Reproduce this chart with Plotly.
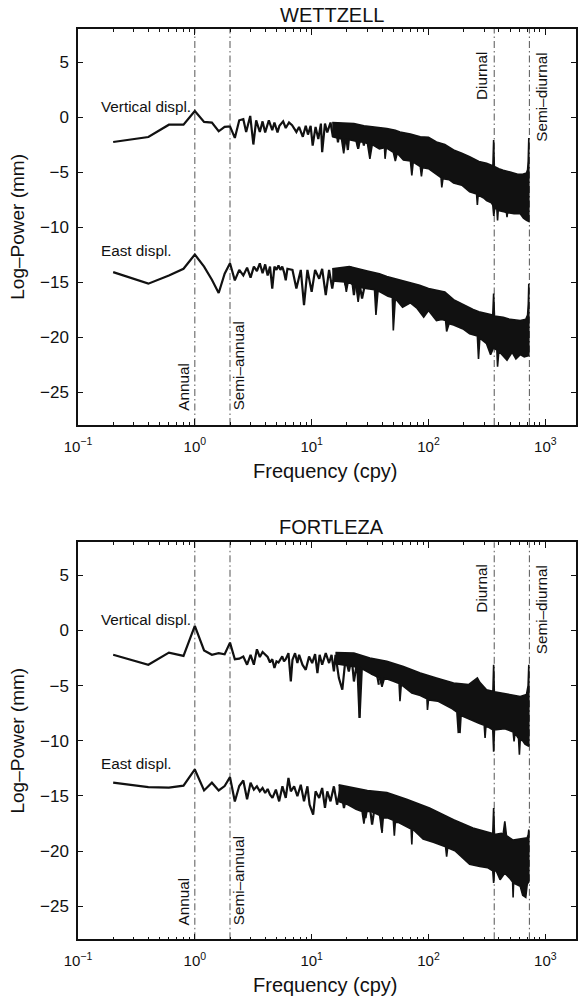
import math
import plotly.graph_objects as go

# ------------------------------------------------------------------ data
# WETTZELL - vertical displacement (low-frequency part, cpy / log-power)
wtz_v_freq = [0.2, 0.4, 0.6, 0.8, 1.0, 1.2, 1.4, 1.6, 1.8, 2.0, 2.2, 2.4, 2.6, 2.75, 2.98,
              3.17, 3.35, 3.6, 3.8, 4.0, 4.3, 4.6, 4.8, 5.1, 5.3, 5.7, 6.0, 6.4, 6.8, 7.4,
              7.8, 8.4, 8.9, 9.3, 9.8, 10.2, 10.8, 11.4, 12.0, 12.3, 13.0, 13.6, 14.5, 15.2,
              16.0, 16.8, 17.5, 18.4, 19.3, 20.4, 21.3, 22.7, 23.5, 25.0, 26.0, 28.0, 29.0]
wtz_v_pow = [-2.27, -1.82, -0.7, -0.7, 0.55, -0.45, -0.51, -1.3, -0.9, -0.85, -1.9, -0.3, -0.2,
             -1.36, 0.1, -2.5, -0.3, -1.36, -0.4, -1.4, -0.3, -1.2, -0.5, -1.4, -0.8, -0.4,
             -1.0, -0.5, -0.75, -1.36, -0.9, -1.8, -0.8, -1.6, -0.8, -2.6, -0.9, -2.0, -0.6,
             -3.2, -0.6, -1.4, -0.5, -1.8, -0.6, -2.3, -0.75, -2.0, -0.9, -3.0, -0.9, -2.0,
             -0.8, -2.9, -0.9, -2.6, -1.0]
# dense high-frequency band: upper / lower envelopes
wtz_v_up_freq = [15, 20, 23, 28, 34, 38, 44, 52, 57, 70, 85, 100, 117, 138, 164, 193, 225, 270,
                 314, 350, 356, 361, 366, 400, 436, 500, 580, 640, 690, 705, 714, 722]
wtz_v_up_pow = [-0.5, -0.55, -0.6, -0.8, -0.9, -1.0, -1.05, -1.2, -1.36, -1.55, -1.8, -1.85,
                -2.27, -2.5, -3.0, -3.3, -3.6, -4.05, -4.2, -4.4, -4.4, -2.1, -4.5, -4.7, -4.85,
                -5.0, -5.2, -5.2, -5.1, -4.8, -4.0, -1.9]
wtz_v_lo_freq = [15, 18, 18.8, 19.6, 24, 25, 26, 30, 31.5, 33, 38, 42, 42.5, 43.5, 50, 52, 54,
                 61, 70, 72, 74, 85, 87, 89, 100, 117, 128, 130, 133, 150, 164, 193, 225, 258,
                 262, 266, 300, 314, 345, 355, 362, 370, 385, 390, 395, 440, 465, 470, 475,
                 540, 610, 650, 690, 722]
wtz_v_lo_pow = [-1.8, -2.0, -3.3, -2.0, -2.2, -2.9, -2.2, -2.4, -3.8, -2.5, -2.9, -2.8, -3.8,
                -2.8, -3.2, -4.0, -3.3, -3.9, -4.0, -5.3, -4.1, -4.5, -5.4, -4.6, -4.7, -5.2,
                -5.5, -6.4, -5.6, -5.7, -6.0, -6.2, -6.8, -7.0, -8.0, -7.1, -7.4, -7.6, -7.8,
                -8.0, -9.0, -8.2, -8.4, -9.4, -8.5, -8.6, -8.7, -9.1, -8.7, -8.8, -8.8, -9.2,
                -9.4, -9.5]

# WETTZELL - east displacement
wtz_e_freq = [0.2, 0.4, 0.6, 0.8, 1.0, 1.2, 1.4, 1.6, 1.8, 2.0, 2.2, 2.4, 2.6, 2.8, 3.0, 3.2,
              3.4, 3.6, 3.8, 4.0, 4.2, 4.4, 4.6, 4.8, 5.0, 5.2, 5.4, 5.6, 5.8, 6.0, 6.2, 6.85,
              7.4, 8.07, 8.6, 9.2, 10.0, 10.7, 11.6, 12.3, 13.2, 14.1, 15.0, 16.0, 17.1, 18.3,
              19.5, 21.5, 23.0, 24.5, 27.0, 29.9]
wtz_e_pow = [-14.1, -15.15, -14.4, -13.8, -12.5, -13.6, -14.8, -16.0, -14.25, -13.3, -14.85,
             -13.9, -14.4, -13.7, -14.6, -13.6, -14.0, -13.3, -14.2, -13.4, -14.4, -13.6,
             -15.6, -13.6, -13.9, -13.5, -13.9, -13.6, -14.1, -14.85, -13.8, -13.9, -15.6,
             -13.9, -17.1, -13.9, -15.9, -13.9, -14.7, -13.8, -16.2, -13.9, -15.6, -13.8,
             -14.9, -13.9, -15.3, -13.6, -16.2, -13.9, -16.5, -14.2]
wtz_e_up_freq = [15, 21, 30, 38, 44, 60, 72, 84, 100, 138, 164, 200, 241, 270, 314, 355, 361,
                 367, 436, 500, 610, 680, 705, 715, 722]
wtz_e_up_pow = [-13.8, -13.6, -14.0, -14.25, -14.5, -14.9, -15.15, -15.3, -15.6, -15.9, -16.6,
                -17.1, -17.5, -17.7, -17.9, -18.0, -16.05, -18.1, -18.2, -18.4, -18.5, -18.4,
                -18.0, -17.0, -15.15]
wtz_e_lo_freq = [15, 19.2, 19.8, 20.5, 24, 25, 26, 30, 34.5, 35.5, 37, 45, 49, 50, 52, 60, 70,
                 80, 91, 100, 117, 130, 140, 143, 150, 164, 200, 225, 262, 268, 275, 314, 340,
                 360, 385, 390, 400, 470, 520, 560, 610, 660, 722]
wtz_e_lo_pow = [-14.9, -15.0, -15.9, -15.0, -15.4, -16.8, -15.5, -15.6, -15.7, -18.0, -15.8,
                -16.3, -16.4, -19.4, -16.5, -17.3, -16.9, -17.4, -18.2, -17.6, -18.5, -18.4,
                -18.5, -19.5, -18.8, -18.9, -19.3, -19.7, -19.9, -22.0, -20.1, -20.6, -21.6,
                -21.0, -21.2, -22.7, -21.3, -22.1, -21.4, -22.0, -21.6, -21.8, -21.7]

# FORTLEZA - vertical displacement
frt_v_freq = [0.2, 0.4, 0.6, 0.8, 1.0, 1.2, 1.4, 1.6, 1.8, 2.0, 2.2, 2.4, 2.6, 2.8, 3.0, 3.2,
              3.4, 3.6, 3.8, 4.0, 4.2, 4.4, 4.6, 4.8, 5.0, 5.2, 5.4, 5.6, 5.8, 6.0, 6.33, 6.63,
              6.85, 7.21, 7.55, 7.81, 8.34, 8.9, 9.5, 10.1, 10.7, 11.2, 11.7, 12.3, 13.2, 14.1,
              14.8, 15.5, 16.0, 17.1, 18.3, 19.5, 20.8, 22.0, 23.0, 24.5, 25.7, 27.0, 28.9,
              30.8, 32.9, 35.2, 37.6]
frt_v_pow = [-2.2, -3.1, -2.0, -2.3, 0.43, -1.8, -2.2, -2.05, -2.15, -1.1, -2.6, -2.55, -2.35,
             -3.1, -2.2, -3.1, -1.7, -2.4, -1.95, -2.2, -2.4, -2.9, -2.6, -3.4, -2.8, -2.9,
             -2.65, -2.35, -2.8, -2.6, -2.05, -4.62, -2.65, -2.05, -2.95, -2.2, -3.1, -3.56,
             -2.35, -2.95, -2.14, -3.86, -2.2, -3.1, -2.05, -2.95, -2.2, -3.71, -2.2, -4.31,
             -5.37, -2.5, -3.71, -2.5, -4.62, -2.8, -7.93, -2.95, -3.56, -2.8, -4.01, -3.26,
             -4.92]
frt_v_up_freq = [16, 23, 31.5, 44, 61, 85, 117, 164, 220, 250, 262, 275, 314, 356, 361, 366,
                 436, 520, 610, 690, 712, 722]
frt_v_up_pow = [-2.0, -2.05, -2.5, -2.8, -3.26, -3.86, -4.3, -4.77, -4.9, -4.5, -4.3, -4.7,
                -5.37, -5.5, -3.1, -5.55, -5.67, -5.85, -5.98, -5.8, -5.0, -3.1]
frt_v_lo_freq = [16, 24, 25.2, 25.7, 26.3, 32, 38, 40, 42, 50, 56, 57, 58.5, 72, 85, 97, 98,
                 100, 120, 138, 160, 175, 180, 183, 186, 190, 200, 270, 300, 305, 310, 330,
                 355, 361, 367, 380, 450, 530, 540, 550, 590, 600, 610, 640, 670, 722]
frt_v_lo_pow = [-3.0, -3.3, -3.4, -7.9, -3.4, -3.9, -4.3, -5.1, -4.3, -4.6, -4.8, -6.4, -4.9,
                -5.67, -5.9, -6.2, -7.2, -6.3, -6.4, -6.7, -7.1, -7.4, -9.3, -7.6, -9.3, -7.7,
                -7.8, -8.4, -8.6, -9.75, -8.7, -8.8, -9.0, -11.0, -9.0, -9.0, -8.9, -9.2,
                -10.05, -9.3, -9.8, -11.26, -9.9, -10.0, -10.3, -10.5]

# FORTLEZA - east displacement
frt_e_freq = [0.2, 0.4, 0.6, 0.8, 1.0, 1.2, 1.4, 1.6, 1.8, 2.0, 2.2, 2.4, 2.6, 2.8, 3.0, 3.2,
              3.4, 3.6, 3.8, 4.0, 4.2, 4.4, 4.62, 4.94, 5.27, 5.62, 6.0, 6.33, 6.63, 7.08,
              7.55, 8.07, 8.6, 9.2, 9.6, 10.3, 10.8, 11.6, 12.3, 13.0, 13.6, 14.5, 15.5, 16.5,
              17.7, 18.9, 20.2, 21.5, 23.0, 24.5, 26.2, 28.9, 30.8, 32.9, 35.2, 37.6, 40.1]
frt_e_pow = [-13.8, -14.2, -14.25, -14.07, -12.6, -14.5, -13.8, -14.5, -14.1, -13.3, -15.5,
             -14.1, -13.6, -15.3, -13.8, -14.43, -14.13, -14.58, -14.28, -14.73, -14.37,
             -14.88, -15.18, -14.43, -15.49, -14.13, -15.18, -13.37, -14.58, -14.13, -15.03,
             -13.98, -15.49, -14.13, -15.79, -16.7, -14.58, -15.18, -14.28, -16.09, -14.58,
             -15.49, -14.13, -15.79, -14.28, -16.09, -14.58, -15.49, -14.58, -15.79, -15.03,
             -17.0, -15.18, -17.6, -15.49, -16.09, -18.2]
frt_e_up_freq = [17, 25, 30, 44, 65, 102, 164, 240, 314, 355, 361, 367, 420, 435, 450, 465,
                 530, 650, 700, 715, 722]
frt_e_up_pow = [-14.0, -14.3, -14.5, -14.7, -15.3, -16.1, -17.15, -17.9, -18.2, -18.4, -16.1,
                -18.5, -18.4, -18.5, -17.3, -18.6, -19.0, -18.9, -18.8, -18.5, -18.05]
frt_e_lo_freq = [17, 20.5, 24, 27, 28, 29, 32, 39, 40, 41, 45, 50, 51, 52, 55, 65, 71, 72, 73,
                 90, 110, 140, 143, 146, 170, 225, 275, 320, 355, 361, 367, 380, 410, 450,
                 500, 525, 530, 535, 560, 610, 640, 680, 700, 722]
frt_e_lo_pow = [-15.5, -15.8, -16.2, -16.4, -17.5, -16.4, -16.4, -16.8, -18.35, -17.0, -17.0,
                -17.2, -18.6, -17.4, -17.4, -17.8, -18.0, -19.4, -18.0, -18.9, -19.2, -19.6,
                -20.5, -19.7, -20.0, -21.2, -21.4, -21.5, -21.8, -22.9, -21.8, -21.8, -22.6,
                -22.0, -22.5, -22.8, -24.2, -22.9, -23.0, -23.2, -24.0, -24.2, -23.0, -22.8]

# reference periods (cpy) and labels
ref_freq = [1.0, 2.0, 365.25, 730.5]
ref_label = ["Annual", "Semi–annual", "Diurnal", "Semi–diurnal"]

x_tick_vals = [0.1, 1, 10, 100, 1000]
x_tick_text = ["10<sup>−1</sup>", "10<sup>0</sup>", "10<sup>1</sup>", "10<sup>2</sup>",
               "10<sup>3</sup>"]
x_minor_vals = [0.2, 0.3, 0.4, 0.5, 0.6, 0.7, 0.8, 0.9, 2, 3, 4, 5, 6, 7, 8, 9,
                20, 30, 40, 50, 60, 70, 80, 90, 200, 300, 400, 500, 600, 700, 800, 900]
y_tick_vals = [-25, -20, -15, -10, -5, 0, 5]

panel_titles = ["WETTZELL", "FORTLEZA"]
series_labels = ["Vertical displ.", "East displ."]

# ------------------------------------------------------------------ figure
FONT = "Liberation Sans, Arial, Helvetica, sans-serif"
INK = "#111111"
W, H = 578, 1001
ML = 78

fig = go.Figure()

panels = [
    dict(xa="x", ya="y",
         lines=[(wtz_v_freq, wtz_v_pow), (wtz_e_freq, wtz_e_pow)],
         bands=[(wtz_v_up_freq, wtz_v_up_pow, wtz_v_lo_freq, wtz_v_lo_pow),
                (wtz_e_up_freq, wtz_e_up_pow, wtz_e_lo_freq, wtz_e_lo_pow)],
         top=29.0, bot=425.0, lab_y=[0.97, -12.12], ann_low=-26.85, ann_high=6.06,
         title_y=14.5, xlab_y=471.0),
    dict(xa="x2", ya="y2",
         lines=[(frt_v_freq, frt_v_pow), (frt_e_freq, frt_e_pow)],
         bands=[(frt_v_up_freq, frt_v_up_pow, frt_v_lo_freq, frt_v_lo_pow),
                (frt_e_up_freq, frt_e_up_pow, frt_e_lo_freq, frt_e_lo_pow)],
         top=542.3, bot=939.3, lab_y=[0.97, -12.07], ann_low=-26.9, ann_high=6.13,
         title_y=527.0, xlab_y=985.0),
]

annotations = []
shapes = []
for i, p in enumerate(panels):
    for (f, v) in p["lines"]:
        fig.add_trace(go.Scatter(x=f, y=v, mode="lines", xaxis=p["xa"], yaxis=p["ya"],
                                 line=dict(color=INK, width=2.2), hoverinfo="skip"))
    for (uf, uv, lf, lv) in p["bands"]:
        fig.add_trace(go.Scatter(x=list(uf) + list(lf)[::-1], y=list(uv) + list(lv)[::-1],
                                 mode="lines", fill="toself", fillcolor=INK,
                                 xaxis=p["xa"], yaxis=p["ya"],
                                 line=dict(color=INK, width=1.6), hoverinfo="skip"))
    # reference period lines (shape x given in data units on the log axis)
    for rf in ref_freq:
        shapes.append(dict(type="line", xref=p["xa"], yref=p["ya"] + " domain",
                           x0=rf, x1=rf, y0=0, y1=1, layer="below",
                           line=dict(color="#555555", width=1, dash="7px,3px,1.5px,3px")))
    # reference labels
    specs = [(0, "right", "bottom", p["ann_low"], -1),
             (1, "left", "bottom", p["ann_low"], -2),
             (2, "right", "top", p["ann_high"], -2),
             (3, "left", "top", p["ann_high"], 2)]
    for k, xa, ya, yv, xs in specs:
        annotations.append(dict(text=ref_label[k], xref=p["xa"], yref=p["ya"],
                                x=math.log10(ref_freq[k]), y=yv, textangle=-90,
                                xanchor=xa, yanchor=ya, xshift=xs, showarrow=False,
                                font=dict(size=15.3, color=INK)))
    # series labels
    for k in range(2):
        annotations.append(dict(text=series_labels[k], xref=p["xa"], yref=p["ya"],
                                x=math.log10(0.151), y=p["lab_y"][k], xanchor="left",
                                yanchor="middle", showarrow=False,
                                font=dict(size=15.3, color=INK)))
    # title
    annotations.append(dict(text=panel_titles[i], xref="paper", yref="paper",
                            x=(333 - ML) / (W - ML), y=1 - p["title_y"] / H,
                            xanchor="center", yanchor="middle", showarrow=False,
                            font=dict(size=20, color=INK)))
    # axis titles
    annotations.append(dict(text="Frequency (cpy)", xref="paper", yref="paper",
                            x=(326 - ML) / (W - ML), y=1 - p["xlab_y"] / H,
                            xanchor="center", yanchor="middle", showarrow=False,
                            font=dict(size=20, color=INK)))
    annotations.append(dict(text="Log–Power (mm)", xref="paper", yref="paper",
                            x=(17.5 - ML) / (W - ML), y=1 - (p["top"] + p["bot"]) / 2 / H,
                            xanchor="center", yanchor="middle", textangle=-90,
                            showarrow=False, font=dict(size=19, color=INK)))

xcommon = dict(type="log", range=[-1, math.log10(0.1) + (W - ML) / 117.3],
               tickmode="array", tickvals=x_tick_vals, ticktext=x_tick_text,
               ticks="inside", ticklen=6, tickwidth=1, tickcolor=INK,
               minor=dict(tickmode="array", tickvals=x_minor_vals, ticks="inside",
                          ticklen=3, tickwidth=1, tickcolor=INK),
               showline=True, linewidth=1.5, linecolor=INK, mirror="ticks",
               showgrid=False, zeroline=False, tickfont=dict(size=15, color=INK),
               ticklabelstandoff=7)
ycommon = dict(range=[-28, 8], tickmode="array", tickvals=y_tick_vals,
               ticks="inside", ticklen=5, tickwidth=1, tickcolor=INK,
               showline=True, linewidth=1.5, linecolor=INK, mirror="ticks",
               showgrid=False, zeroline=False, tickfont=dict(size=17, color=INK),
               ticklabelstandoff=4)

d_top = [1 - panels[0]["bot"] / H, 1 - panels[0]["top"] / H]
d_bot = [1 - panels[1]["bot"] / H, 1 - panels[1]["top"] / H]

fig.update_layout(
    width=W, height=H, margin=dict(l=ML, r=0, t=0, b=0),
    paper_bgcolor="white", plot_bgcolor="white", showlegend=False,
    font=dict(family=FONT, color=INK),
    xaxis=dict(domain=[0, 1], anchor="y", **xcommon),
    yaxis=dict(domain=d_top, anchor="x", **ycommon),
    xaxis2=dict(domain=[0, 1], anchor="y2", **xcommon),
    yaxis2=dict(domain=d_bot, anchor="x2", **ycommon),
    annotations=annotations, shapes=shapes,
)

fig.write_html("out.html")
